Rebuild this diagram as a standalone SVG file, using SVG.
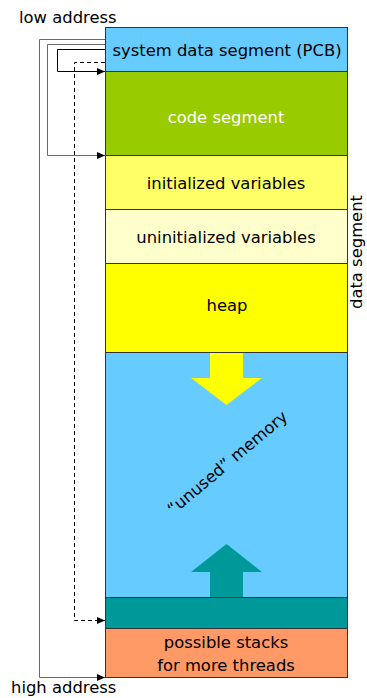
<svg xmlns="http://www.w3.org/2000/svg" width="367" height="698" viewBox="0 0 367 698">
  <style>
    text { font-family: "DejaVu Sans", "Liberation Sans", sans-serif; font-size: 16.4px; fill: #000; }
    .c { text-anchor: middle; }
    .seg { stroke: #333; stroke-width: 1; }
    .link { fill: none; stroke: #000; stroke-width: 1; }
    .grey { stroke: #6a6a6a; }
    .dash { stroke-dasharray: 4 3; }
  </style>
  <defs>
    <marker id="tip" markerWidth="8" markerHeight="8" refX="8" refY="4" orient="auto" markerUnits="userSpaceOnUse">
      <path d="M0,0.5 L8,4 L0,7.5 Z" fill="#000"/>
    </marker>
  </defs>

  <!-- memory layout, low address at the top -->
  <g id="pcb">
    <rect class="seg" x="105.5" y="27.5" width="242" height="44" fill="#66CCFF"/>
    <text class="c" x="227" y="56">system data segment (PCB)</text>
  </g>
  <g id="code">
    <rect class="seg" x="105.5" y="71.5" width="242" height="84" fill="#99CC00"/>
    <text class="c" x="226" y="123" style="fill:#fff">code segment</text>
  </g>
  <g id="init">
    <rect class="seg" x="105.5" y="155.5" width="242" height="54" fill="#FFFF66"/>
    <text class="c" x="226" y="189">initialized variables</text>
  </g>
  <g id="uninit">
    <rect class="seg" x="105.5" y="209.5" width="242" height="54" fill="#FFFFCC"/>
    <text class="c" x="226" y="243">uninitialized variables</text>
  </g>
  <g id="heap">
    <rect class="seg" x="105.5" y="263.5" width="242" height="89" fill="#FFFF00"/>
    <text class="c" x="227" y="311">heap</text>
  </g>
  <g id="unused">
    <rect class="seg" x="105.5" y="352.5" width="242" height="245" fill="#66CCFF"/>
    <text class="c" x="231" y="467" transform="rotate(-40 231 467)">“unused” memory</text>
  </g>
  <g id="stack">
    <rect class="seg" x="105.5" y="597.5" width="242" height="31" fill="#009999"/>
  </g>
  <g id="threads">
    <rect class="seg" x="105.5" y="628.5" width="242" height="49" fill="#FF9966"/>
    <text class="c" x="226" y="648">possible stacks</text>
    <text class="c" x="226" y="671">for more threads</text>
  </g>

  <!-- growth arrows -->
  <g id="heap-growth">
    <path d="M210,353 L243,353 L243,378 L262,378 L226.5,405 L191,378 L210,378 Z" fill="#FFFF00"/>
  </g>
  <g id="stack-growth">
    <path d="M210,597 L243,597 L243,572 L262,572 L226.5,544 L191,572 L210,572 Z" fill="#009999"/>
  </g>

  <!-- labels -->
  <g id="labels">
    <text x="19" y="23">low address</text>
    <text x="11" y="693">high address</text>
    <text class="c" x="362" y="252" transform="rotate(-90 362 252)">data segment</text>
  </g>

  <!-- pointers from the PCB to the segments -->
  <g id="connectors">
    <path class="link grey" d="M105,39.5 H39.5 V677.5 H105" marker-end="url(#tip)"/>
    <path class="link grey" d="M105,44.5 H47.5 V155.5 H105" marker-end="url(#tip)"/>
    <path class="link" d="M105,49.5 H57.5 V71.5 H105" marker-end="url(#tip)"/>
    <path class="link dash" d="M105,62.5 H74.5 V620.5 H105" marker-end="url(#tip)"/>
  </g>
</svg>
